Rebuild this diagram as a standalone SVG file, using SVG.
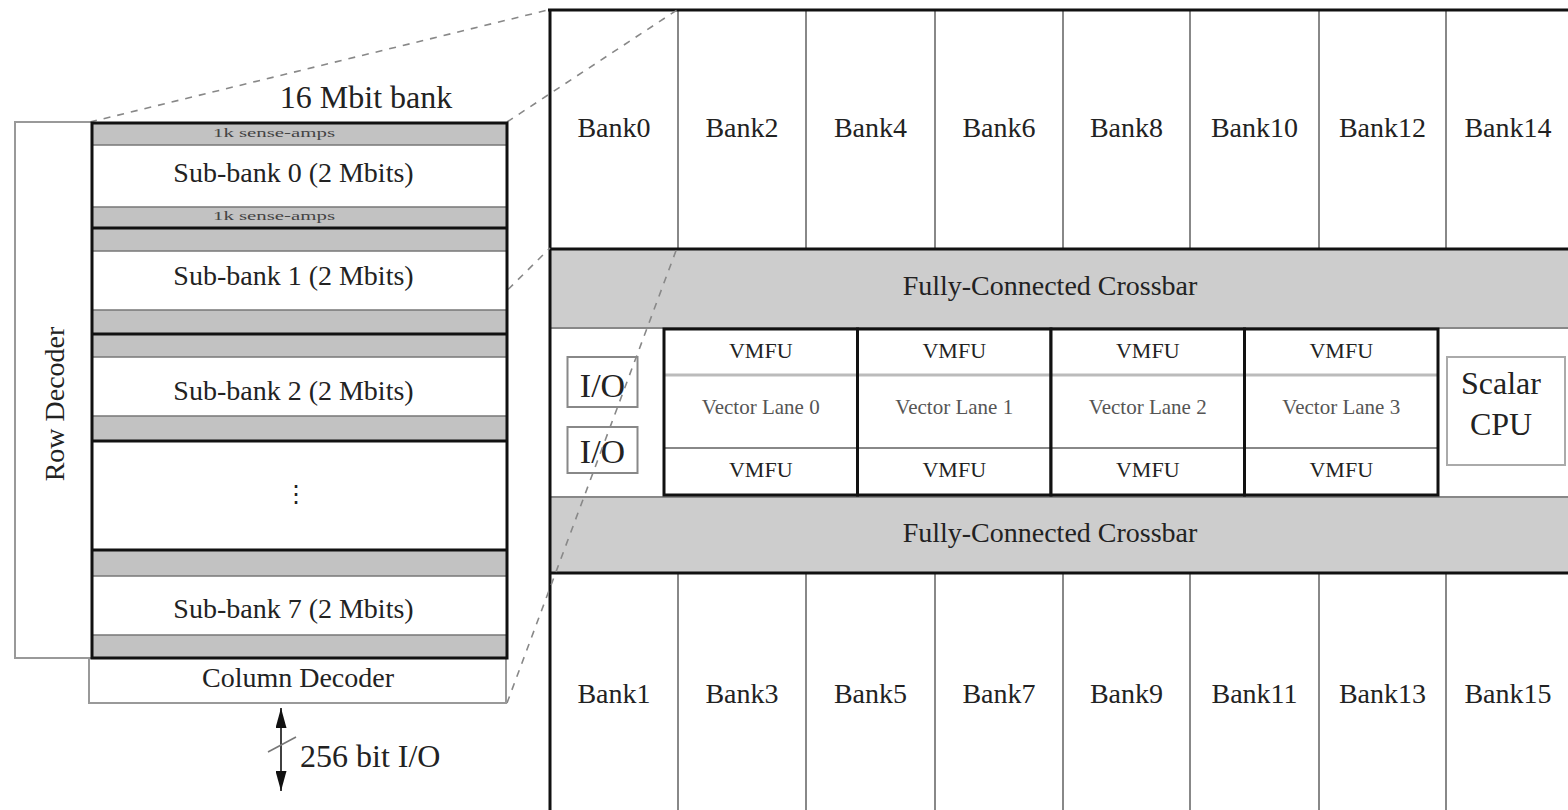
<svg xmlns="http://www.w3.org/2000/svg" width="1568" height="810" viewBox="0 0 1568 810">
  <style>
    text { font-family: "Liberation Serif", "Times New Roman", serif; fill: #222; }
    .lbl { text-anchor: middle; }
    .big { font-size: 32px; }
    .sub { font-size: 28px; }
    .amp { font-size: 13px; fill: #444; }
    .bank { font-size: 28px; }
    .xbar { font-size: 28px; }
    .vm { font-size: 22px; }
    .lane { font-size: 21px; fill: #555; }
    .io { font-size: 34px; }
    .sense { fill: #c2c2c2; stroke: #777; stroke-width: 1.5; }
    .cell { fill: #fff; }
    .div { stroke: #888; stroke-width: 2; }
    .thick { stroke: #111; stroke-width: 3; fill: none; }
    .thin { fill: #fff; stroke: #999; stroke-width: 2; }
    .dash { stroke: #888; stroke-width: 1.6; stroke-dasharray: 7 7; fill: none; }
    .xfill { fill: #cdcdcd; }
  </style>
  <defs>
    <marker id="head" viewBox="0 0 20 11" refX="20" refY="5.5" markerWidth="20" markerHeight="11" markerUnits="userSpaceOnUse" orient="auto">
      <path d="M0,0 L20,5.5 L0,11 Z" fill="#111"/>
    </marker>
  </defs>

  <rect width="1568" height="810" fill="#fff"/>

  <!-- chip floorplan: banks, crossbars and vector lanes -->
  <g id="chip">
    <rect x="550" y="10" width="1030" height="810" fill="#fff"/>
    <!-- crossbars -->
    <rect class="xfill" x="550" y="249" width="1030" height="79"/>
    <rect class="xfill" x="550" y="497" width="1030" height="76"/>
    <line x1="550" y1="328" x2="1580" y2="328" class="div"/>
    <line x1="550" y1="497" x2="1580" y2="497" class="div"/>
    <!-- bank column dividers -->
    <g class="div">
      <line x1="678" y1="10" x2="678" y2="249"/>
      <line x1="806" y1="10" x2="806" y2="249"/>
      <line x1="935" y1="10" x2="935" y2="249"/>
      <line x1="1063" y1="10" x2="1063" y2="249"/>
      <line x1="1190" y1="10" x2="1190" y2="249"/>
      <line x1="1319" y1="10" x2="1319" y2="249"/>
      <line x1="1446" y1="10" x2="1446" y2="249"/>
      <line x1="678" y1="573" x2="678" y2="815"/>
      <line x1="806" y1="573" x2="806" y2="815"/>
      <line x1="935" y1="573" x2="935" y2="815"/>
      <line x1="1063" y1="573" x2="1063" y2="815"/>
      <line x1="1190" y1="573" x2="1190" y2="815"/>
      <line x1="1319" y1="573" x2="1319" y2="815"/>
      <line x1="1446" y1="573" x2="1446" y2="815"/>
    </g>
    <line x1="548" y1="10" x2="1580" y2="10" class="thick"/>
    <line x1="550" y1="10" x2="550" y2="815" class="thick"/>
    <line x1="550" y1="249" x2="1580" y2="249" class="thick"/>
    <line x1="550" y1="573" x2="1580" y2="573" class="thick"/>
  </g>

  <g id="banks-even">
    <text class="bank lbl" x="614" y="137">Bank0</text>
    <text class="bank lbl" x="742" y="137">Bank2</text>
    <text class="bank lbl" x="870.5" y="137">Bank4</text>
    <text class="bank lbl" x="999" y="137">Bank6</text>
    <text class="bank lbl" x="1126.5" y="137">Bank8</text>
    <text class="bank lbl" x="1254.5" y="137">Bank10</text>
    <text class="bank lbl" x="1382.5" y="137">Bank12</text>
    <text class="bank lbl" x="1508" y="137">Bank14</text>
  </g>
  <g id="banks-odd">
    <text class="bank lbl" x="614" y="703">Bank1</text>
    <text class="bank lbl" x="742" y="703">Bank3</text>
    <text class="bank lbl" x="870.5" y="703">Bank5</text>
    <text class="bank lbl" x="999" y="703">Bank7</text>
    <text class="bank lbl" x="1126.5" y="703">Bank9</text>
    <text class="bank lbl" x="1254.5" y="703">Bank11</text>
    <text class="bank lbl" x="1382.5" y="703">Bank13</text>
    <text class="bank lbl" x="1508" y="703">Bank15</text>
  </g>

  <g id="crossbar-top">
    <text class="xbar lbl" x="1050" y="295">Fully-Connected Crossbar</text>
  </g>
  <g id="crossbar-bottom">
    <text class="xbar lbl" x="1050" y="542">Fully-Connected Crossbar</text>
  </g>

  <g id="io-0">
    <rect x="567.5" y="357" width="70" height="50" fill="#fff" stroke="#888" stroke-width="2"/>
    <text class="io lbl" x="602.5" y="397">I/O</text>
  </g>
  <g id="io-1">
    <rect x="567.5" y="427" width="70" height="46" fill="#fff" stroke="#888" stroke-width="2"/>
    <text class="io lbl" x="602.5" y="463">I/O</text>
  </g>

  <g id="lane-0">
    <rect class="cell" x="664" y="329" width="193.5" height="166"/>
    <line x1="664" y1="375" x2="857.5" y2="375" stroke="#bbb" stroke-width="3"/>
    <line x1="664" y1="448" x2="857.5" y2="448" class="div"/>
    <rect class="thick" x="664" y="329" width="193.5" height="166"/>
    <text class="vm lbl" x="760.75" y="358">VMFU</text>
    <text class="lane lbl" x="760.75" y="414">Vector Lane 0</text>
    <text class="vm lbl" x="760.75" y="477">VMFU</text>
  </g>
  <g id="lane-1">
    <rect class="cell" x="857.5" y="329" width="193.5" height="166"/>
    <line x1="857.5" y1="375" x2="1051" y2="375" stroke="#bbb" stroke-width="3"/>
    <line x1="857.5" y1="448" x2="1051" y2="448" class="div"/>
    <rect class="thick" x="857.5" y="329" width="193.5" height="166"/>
    <text class="vm lbl" x="954.25" y="358">VMFU</text>
    <text class="lane lbl" x="954.25" y="414">Vector Lane 1</text>
    <text class="vm lbl" x="954.25" y="477">VMFU</text>
  </g>
  <g id="lane-2">
    <rect class="cell" x="1051" y="329" width="193.5" height="166"/>
    <line x1="1051" y1="375" x2="1244.5" y2="375" stroke="#bbb" stroke-width="3"/>
    <line x1="1051" y1="448" x2="1244.5" y2="448" class="div"/>
    <rect class="thick" x="1051" y="329" width="193.5" height="166"/>
    <text class="vm lbl" x="1147.75" y="358">VMFU</text>
    <text class="lane lbl" x="1147.75" y="414">Vector Lane 2</text>
    <text class="vm lbl" x="1147.75" y="477">VMFU</text>
  </g>
  <g id="lane-3">
    <rect class="cell" x="1244.5" y="329" width="193.5" height="166"/>
    <line x1="1244.5" y1="375" x2="1438" y2="375" stroke="#bbb" stroke-width="3"/>
    <line x1="1244.5" y1="448" x2="1438" y2="448" class="div"/>
    <rect class="thick" x="1244.5" y="329" width="193.5" height="166"/>
    <text class="vm lbl" x="1341.25" y="358">VMFU</text>
    <text class="lane lbl" x="1341.25" y="414">Vector Lane 3</text>
    <text class="vm lbl" x="1341.25" y="477">VMFU</text>
  </g>

  <g id="scalar-cpu">
    <rect x="1447" y="357" width="118" height="108" fill="#fff" stroke="#aaa" stroke-width="2"/>
    <text class="big lbl" x="1501" y="394">Scalar</text>
    <text class="big lbl" x="1501" y="435">CPU</text>
  </g>

  <!-- projection lines from the enlarged bank to Bank0, plus the I/O arrow -->
  <g id="connectors">
    <line class="dash" x1="90" y1="122" x2="548" y2="10"/>
    <line class="dash" x1="507" y1="122" x2="677" y2="10"/>
    <line class="dash" x1="90" y1="703" x2="550" y2="248"/>
    <line class="dash" x1="507" y1="703" x2="677" y2="248"/>
    <line x1="281" y1="750" x2="281" y2="708" stroke="#111" stroke-width="1.6" marker-end="url(#head)"/>
    <line x1="281" y1="750" x2="281" y2="791" stroke="#111" stroke-width="1.6" marker-end="url(#head)"/>
    <line x1="268" y1="752" x2="296" y2="737" stroke="#777" stroke-width="1.6"/>
  </g>

  <g id="io-width">
    <text class="big" x="300" y="767">256 bit I/O</text>
  </g>

  <g id="row-decoder">
    <rect class="thin" x="15" y="122" width="77" height="536"/>
    <text class="sub lbl" transform="translate(64,404) rotate(-90)">Row Decoder</text>
  </g>

  <g id="column-decoder">
    <rect class="thin" x="89" y="658" width="417" height="45"/>
    <text class="sub lbl" x="298" y="687">Column Decoder</text>
  </g>

  <g id="bank-16mbit">
    <rect x="92" y="123" width="415" height="535" fill="#fff"/>
    <text class="big lbl" x="366" y="108">16 Mbit bank</text>
  </g>

  <g id="sub-bank-0">
    <rect class="sense" x="92" y="123" width="415" height="22"/>
    <rect class="sense" x="92" y="207" width="415" height="21"/>
    <text class="amp lbl" x="274" y="137" textLength="122" lengthAdjust="spacingAndGlyphs">1k sense-amps</text>
    <text class="amp lbl" x="274" y="220" textLength="122" lengthAdjust="spacingAndGlyphs">1k sense-amps</text>
    <text class="sub lbl" x="293.5" y="182">Sub-bank 0 (2 Mbits)</text>
  </g>
  <g id="sub-bank-1">
    <rect class="sense" x="92" y="228" width="415" height="23"/>
    <rect class="sense" x="92" y="310" width="415" height="24"/>
    <text class="sub lbl" x="293.5" y="285">Sub-bank 1 (2 Mbits)</text>
  </g>
  <g id="sub-bank-2">
    <rect class="sense" x="92" y="334" width="415" height="23"/>
    <rect class="sense" x="92" y="416" width="415" height="25"/>
    <text class="sub lbl" x="293.5" y="400">Sub-bank 2 (2 Mbits)</text>
  </g>
  <g id="sub-bank-more">
    <text class="lbl" x="296" y="502" style="font-family: 'DejaVu Sans', sans-serif; font-size: 24px;">⋮</text>
  </g>
  <g id="sub-bank-7">
    <rect class="sense" x="92" y="550" width="415" height="26"/>
    <rect class="sense" x="92" y="635" width="415" height="23"/>
    <text class="sub lbl" x="293.5" y="618">Sub-bank 7 (2 Mbits)</text>
  </g>

  <!-- sub-bank separators and outer frame of the bank -->
  <g class="thick">
    <line x1="92" y1="228" x2="507" y2="228"/>
    <line x1="92" y1="334" x2="507" y2="334"/>
    <line x1="92" y1="441" x2="507" y2="441"/>
    <line x1="92" y1="550" x2="507" y2="550"/>
    <rect x="92" y="123" width="415" height="535"/>
  </g>
</svg>
